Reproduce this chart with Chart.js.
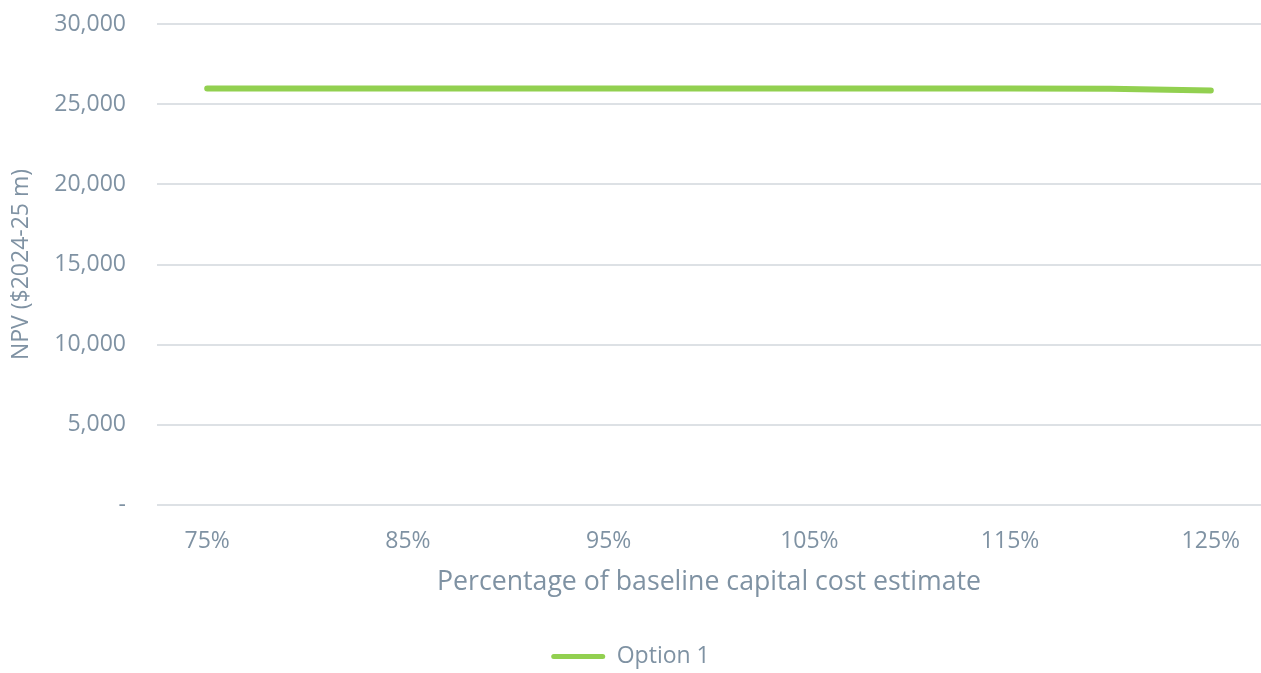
<!DOCTYPE html>
<html>
<head>
<meta charset="utf-8">
<script src="https://cdn.jsdelivr.net/npm/chart.js@4"></script>
<style>
  html, body { margin: 0; padding: 0; background: #ffffff; }
  #wrap { width: 1261px; height: 673px; }
</style>
</head>
<body>
<div id="wrap"><canvas id="c" width="1261" height="673"></canvas></div>
<script>
const categories = ['75%', '80%', '85%', '90%', '95%', '100%', '105%', '110%', '115%', '120%', '125%'];
const option1Values = [25970, 25970, 25970, 25970, 25970, 25970, 25970, 25970, 25970, 25965, 25850];
const seriesName = 'Option 1';
const yTickValues = [0, 5000, 10000, 15000, 20000, 25000, 30000];
const xTitle = 'Percentage of baseline capital cost estimate';
const yTitle = 'NPV ($2024-25 m)';

const textColor = '#7f92a3';
const gridColor = '#dde1e5';
const lineColor = '#92d050';
const fontFamily = '"Open Sans", "Noto Sans", sans-serif';

Chart.defaults.font.family = fontFamily;
Chart.defaults.color = textColor;

new Chart(document.getElementById('c'), {
  type: 'line',
  data: {
    labels: categories,
    datasets: [{
      label: seriesName,
      data: option1Values,
      borderColor: lineColor,
      backgroundColor: lineColor,
      borderWidth: 6,
      borderCapStyle: 'round',
      borderJoinStyle: 'round',
      pointRadius: 0,
      pointHoverRadius: 0,
      tension: 0,
      fill: false
    }]
  },
  options: {
    responsive: false,
    animation: false,
    devicePixelRatio: 1,
    layout: { padding: { top: 24, right: 0, left: 0, bottom: -5 } },
    plugins: {
      tooltip: { enabled: false },
      legend: {
        position: 'bottom',
        labels: {
          color: textColor,
          font: { size: 23, family: fontFamily },
          boxWidth: 54,
          boxHeight: 5,
          useBorderRadius: true,
          borderRadius: 2.5,
          padding: 5,
          generateLabels: function (chart) {
            const items = Chart.defaults.plugins.legend.labels.generateLabels(chart);
            items.forEach(it => { it.lineWidth = 0; it.fillStyle = lineColor; it.strokeStyle = lineColor; });
            return items;
          }
        }
      }
    },
    scales: {
      x: {
        type: 'category',
        offset: true,
        grid: { display: false, drawTicks: true, tickLength: 14 },
        border: { display: false },
        ticks: {
          autoSkip: false,
          maxRotation: 0,
          padding: 9,
          color: textColor,
          font: { size: 23 },
          callback: function (value, index) {
            return index % 2 === 0 ? categories[index] : '';
          }
        },
        title: {
          display: true,
          text: xTitle,
          color: textColor,
          font: { size: 26.7 },
          padding: { top: 0, bottom: 42 }
        },
        afterFit: function (scale) { scale.height = 135; }
      },
      y: {
        min: 0,
        max: 30000,
        afterBuildTicks: function (scale) {
          scale.ticks = yTickValues.map(v => ({ value: v }));
        },
        grid: { color: gridColor, lineWidth: 2, drawTicks: true, tickLength: 21, tickColor: 'rgba(0,0,0,0)' },
        border: { display: false },
        ticks: {
          padding: 10,
          color: textColor,
          font: { size: 23 },
          callback: function (value) {
            return value === 0 ? '-' : value.toLocaleString('en-US');
          }
        },
        title: {
          display: true,
          text: yTitle,
          color: textColor,
          font: { size: 23 },
          padding: { top: 8, bottom: 0 }
        },
        afterFit: function (scale) { scale.width = 157; }
      }
    }
  }
});
</script>
</body>
</html>
